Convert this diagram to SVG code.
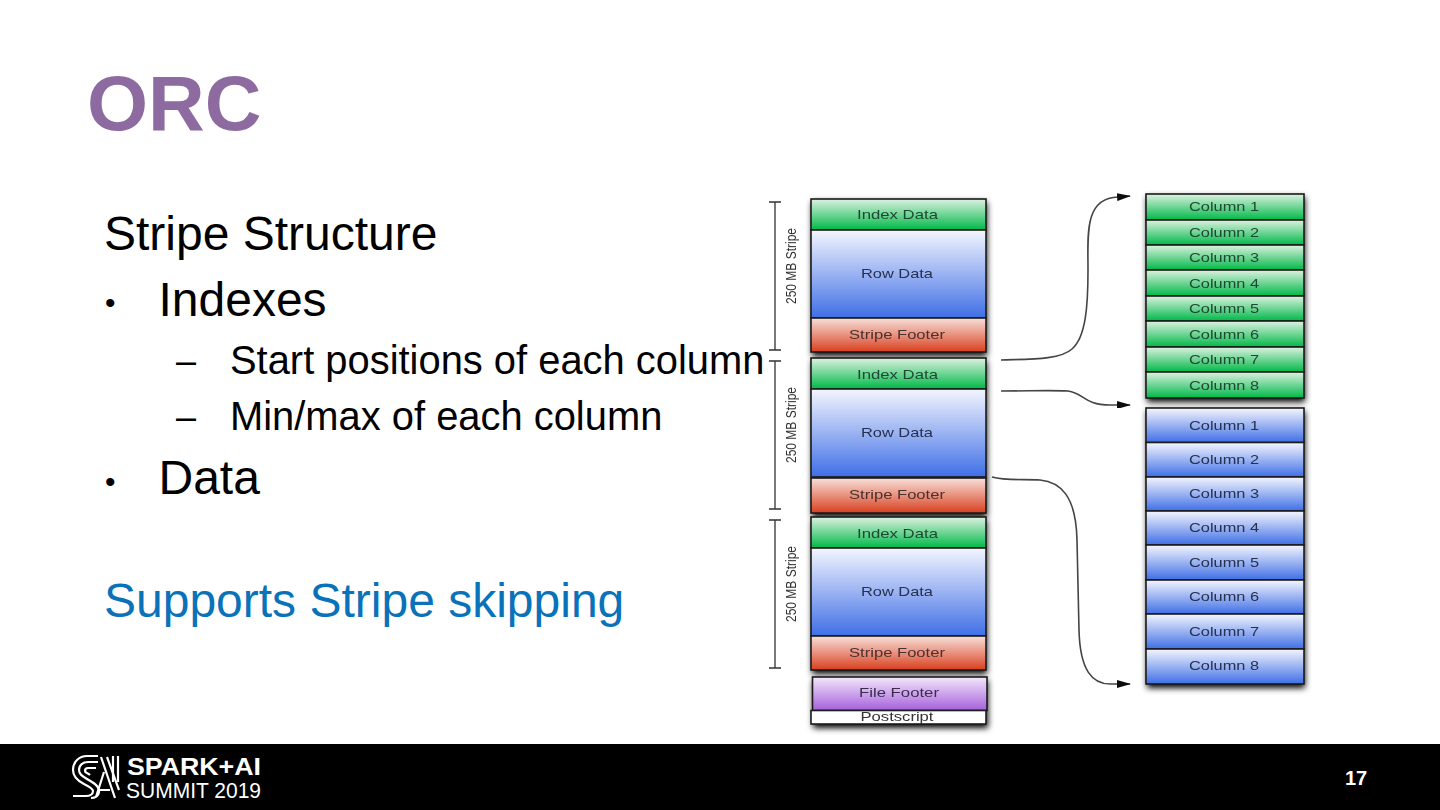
<svg xmlns="http://www.w3.org/2000/svg" width="1440" height="810" viewBox="0 0 1440 810">
<style>
text{font-family:"Liberation Sans",Arial,sans-serif}
.t{font-size:48px;fill:#000}
.s{font-size:39.900px;fill:#000}
.d{font-size:36px;fill:#000}
.b{font-size:30px;fill:#000}
.l{font-size:13.500px;text-anchor:middle}
.c{font-size:13.500px;text-anchor:middle}
.dark{fill:#26304f}
.dg{fill:#1d4a30}
.dr{fill:#4a3030}
.dp{fill:#3c2c50}
.box{stroke:#1b1b1b;stroke-width:1.6}
.stack{fill:#000;filter:url(#shadow)}
.conn{fill:none;stroke:#444;stroke-width:1.6;filter:url(#soft)}
.brace{fill:none;stroke:#333;stroke-width:1.3;filter:url(#soft)}
.side{font-size:15px;fill:#333;text-anchor:middle;filter:url(#soft)}
.blk{filter:url(#soft)}
.logo{fill:none;stroke:#fff;stroke-width:2.2}
</style>
<defs>
<filter id="soft" x="-20%" y="-20%" width="140%" height="140%"><feGaussianBlur stdDeviation="0.45"/></filter>
<filter id="shadow" x="-10%" y="-10%" width="120%" height="125%"><feGaussianBlur stdDeviation="3"/></filter>
<linearGradient id="g" x1="0" y1="0" x2="0" y2="1"><stop offset="0" stop-color="#dcf2e0"/><stop offset="1" stop-color="#00b848"/></linearGradient>
<linearGradient id="u" x1="0" y1="0" x2="0" y2="1"><stop offset="0" stop-color="#f4f6fe"/><stop offset="1" stop-color="#3f6fe6"/></linearGradient>
<linearGradient id="r" x1="0" y1="0" x2="0" y2="1"><stop offset="0" stop-color="#f8e0da"/><stop offset="1" stop-color="#d9401f"/></linearGradient>
<linearGradient id="p" x1="0" y1="0" x2="0" y2="1"><stop offset="0" stop-color="#f3e8fb"/><stop offset="1" stop-color="#a65fdc"/></linearGradient>
<marker id="arrow" markerUnits="userSpaceOnUse" markerWidth="14" markerHeight="8" refX="13" refY="4" orient="auto"><path d="M0,0L14,4L0,8z" fill="#111"/></marker>
</defs>
<rect width="1440" height="810" fill="#fff"/>
<text x="87" y="130" font-weight="700" fill="#8d6a9f" style="font-size:78.500px">ORC</text>
<g id="body">
<text class="t" x="104" y="250">Stripe Structure</text>
<text class="b" x="105" y="312.500">•</text>
<text class="t" x="158.500" y="316">Indexes</text>
<text class="d" x="176" y="373">–</text>
<text class="s" x="230" y="374">Start positions of each column</text>
<text class="d" x="176" y="429">–</text>
<text class="s" x="230" y="430">Min/max of each column</text>
<text class="b" x="105" y="491.500">•</text>
<text class="t" x="158.500" y="494">Data</text>
<text class="t" x="104" y="617" style="fill:#0a72b9">Supports Stripe skipping</text>
</g>
<g id="shadows">
<rect class="stack" x="812" y="202" width="175" height="154"/>
<rect class="stack" x="812" y="361" width="175" height="156"/>
<rect class="stack" x="812" y="520" width="175" height="154"/>
<rect class="stack" x="813" y="680" width="175" height="48"/>
<rect class="stack" x="1147" y="197" width="158" height="205"/>
<rect class="stack" x="1147" y="411" width="158" height="277"/>
</g>
<g id="connectors">
<path class="conn" marker-end="url(#arrow)" d="M1001,360C1030,359 1060,360 1072,349C1086,337 1088,305 1088,270C1088,235 1084,198 1118,197L1130,196"/>
<path class="conn" marker-end="url(#arrow)" d="M1001,391C1030,391 1050,390 1068,391C1084,393 1084,405 1110,405L1130,405"/>
<path class="conn" marker-end="url(#arrow)" d="M992,477C1005,481 1025,479 1040,480C1060,482 1076,495 1077,540L1079,630C1080,670 1092,685 1112,684L1130,684"/>
</g>
<g id="braces">
<path class="brace" d="M769,202H781M775,202V350M769,350H781"/>
<path class="brace" d="M769,361H781M775,361V509M769,509H781"/>
<path class="brace" d="M769,520H781M775,520V668M769,668H781"/>
<text class="side" transform="translate(796,266) rotate(-90) scale(.8,1)">250 MB Stripe</text>
<text class="side" transform="translate(796,425) rotate(-90) scale(.8,1)">250 MB Stripe</text>
<text class="side" transform="translate(796,584) rotate(-90) scale(.8,1)">250 MB Stripe</text>
</g>
<g id="stripe-1" class="blk">
<rect class="box" x="811" y="199" width="175" height="31" fill="url(#g)"/><text class="l dg" x="897.500" y="219" textLength="81" lengthAdjust="spacingAndGlyphs">Index Data</text>
<rect class="box" x="811" y="230" width="175" height="88" fill="url(#u)"/><text class="l dark" x="897" y="278" textLength="72" lengthAdjust="spacingAndGlyphs">Row Data</text>
<rect class="box" x="811" y="318" width="175" height="34" fill="url(#r)"/><text class="l dr" x="897" y="339" textLength="96" lengthAdjust="spacingAndGlyphs">Stripe Footer</text>
</g>
<g id="stripe-2" class="blk">
<rect class="box" x="811" y="358" width="175" height="31" fill="url(#g)"/><text class="l dg" x="897.500" y="379" textLength="81" lengthAdjust="spacingAndGlyphs">Index Data</text>
<rect class="box" x="811" y="389" width="175" height="88" fill="url(#u)"/><text class="l dark" x="897" y="437" textLength="72" lengthAdjust="spacingAndGlyphs">Row Data</text>
<rect class="box" x="811" y="478" width="175" height="35" fill="url(#r)"/><text class="l dr" x="897" y="499" textLength="96" lengthAdjust="spacingAndGlyphs">Stripe Footer</text>
</g>
<g id="stripe-3" class="blk">
<rect class="box" x="811" y="517" width="175" height="31" fill="url(#g)"/><text class="l dg" x="897.500" y="538" textLength="81" lengthAdjust="spacingAndGlyphs">Index Data</text>
<rect class="box" x="811" y="548" width="175" height="88" fill="url(#u)"/><text class="l dark" x="897" y="596" textLength="72" lengthAdjust="spacingAndGlyphs">Row Data</text>
<rect class="box" x="811" y="636" width="175" height="34" fill="url(#r)"/><text class="l dr" x="897" y="657" textLength="96" lengthAdjust="spacingAndGlyphs">Stripe Footer</text>
</g>
<g id="file-footer" class="blk"><rect class="box" x="812.500" y="677" width="174.500" height="33.500" fill="url(#p)"/><text class="l dp" x="899" y="697" textLength="80" lengthAdjust="spacingAndGlyphs">File Footer</text></g>
<g id="postscript" class="blk"><rect class="box" x="811" y="710.500" width="175" height="13.500" fill="#fff"/><text class="l" x="897" y="721" fill="#333" textLength="73" lengthAdjust="spacingAndGlyphs">Postscript</text></g>
<g id="index-columns" class="blk">
<rect class="box" x="1146" y="194" width="158" height="26" fill="url(#g)"/><text class="c dg" x="1224" y="211" textLength="70" lengthAdjust="spacingAndGlyphs">Column 1</text>
<rect class="box" x="1146" y="220" width="158" height="25" fill="url(#g)"/><text class="c dg" x="1224" y="236.500" textLength="70" lengthAdjust="spacingAndGlyphs">Column 2</text>
<rect class="box" x="1146" y="245" width="158" height="25" fill="url(#g)"/><text class="c dg" x="1224" y="262" textLength="70" lengthAdjust="spacingAndGlyphs">Column 3</text>
<rect class="box" x="1146" y="270" width="158" height="26" fill="url(#g)"/><text class="c dg" x="1224" y="288" textLength="70" lengthAdjust="spacingAndGlyphs">Column 4</text>
<rect class="box" x="1146" y="296" width="158" height="25" fill="url(#g)"/><text class="c dg" x="1224" y="313" textLength="70" lengthAdjust="spacingAndGlyphs">Column 5</text>
<rect class="box" x="1146" y="321" width="158" height="26" fill="url(#g)"/><text class="c dg" x="1224" y="339" textLength="70" lengthAdjust="spacingAndGlyphs">Column 6</text>
<rect class="box" x="1146" y="347" width="158" height="25" fill="url(#g)"/><text class="c dg" x="1224" y="364" textLength="70" lengthAdjust="spacingAndGlyphs">Column 7</text>
<rect class="box" x="1146" y="372" width="158" height="26" fill="url(#g)"/><text class="c dg" x="1224" y="390" textLength="70" lengthAdjust="spacingAndGlyphs">Column 8</text>
</g>
<g id="data-columns" class="blk">
<rect class="box" x="1146" y="408" width="158" height="34.500" fill="url(#u)"/><text class="c dark" x="1224" y="430" textLength="70" lengthAdjust="spacingAndGlyphs">Column 1</text>
<rect class="box" x="1146" y="442.500" width="158" height="34.500" fill="url(#u)"/><text class="c dark" x="1224" y="464" textLength="70" lengthAdjust="spacingAndGlyphs">Column 2</text>
<rect class="box" x="1146" y="477" width="158" height="34" fill="url(#u)"/><text class="c dark" x="1224" y="498" textLength="70" lengthAdjust="spacingAndGlyphs">Column 3</text>
<rect class="box" x="1146" y="511" width="158" height="34" fill="url(#u)"/><text class="c dark" x="1224" y="532" textLength="70" lengthAdjust="spacingAndGlyphs">Column 4</text>
<rect class="box" x="1146" y="545" width="158" height="35" fill="url(#u)"/><text class="c dark" x="1224" y="567" textLength="70" lengthAdjust="spacingAndGlyphs">Column 5</text>
<rect class="box" x="1146" y="580" width="158" height="34" fill="url(#u)"/><text class="c dark" x="1224" y="601" textLength="70" lengthAdjust="spacingAndGlyphs">Column 6</text>
<rect class="box" x="1146" y="614" width="158" height="35" fill="url(#u)"/><text class="c dark" x="1224" y="636" textLength="70" lengthAdjust="spacingAndGlyphs">Column 7</text>
<rect class="box" x="1146" y="649" width="158" height="35" fill="url(#u)"/><text class="c dark" x="1224" y="670" textLength="70" lengthAdjust="spacingAndGlyphs">Column 8</text>
</g>
<g id="footer">
<rect x="0" y="744" width="1440" height="66" fill="#000"/>
<g id="logo">
<path class="logo" d="M98,756H87C79,756 73,762 73,770C73,777 78,781 84,784C90,787 93,789 93,791C93,794 90,796 86,796H73"/>
<path class="logo" d="M98,762H88C83,762 79,765 79,770C79,774 82,776 87,779C94,783 99,786 99,791C99,796 95,798 91,798"/>
<path class="logo" d="M96,768H88C86,768 85,769 85,771C85,773 88,773 90,775"/>
<path class="logo" d="M101,757L115,798M107,757L119,790M96,797L104,772M100,790H110"/>
<path class="logo" d="M113,756V782M118,756V782"/>
<text x="127" y="775" textLength="134" lengthAdjust="spacingAndGlyphs" style="font-size:23px;font-weight:700;fill:#fff">SPARK+AI</text>
<text x="126" y="798" textLength="135" lengthAdjust="spacingAndGlyphs" style="font-size:22px;fill:#fff">SUMMIT 2019</text>
</g>
<text x="1345" y="785" style="font-size:20px;font-weight:700;fill:#fff">17</text>
</g>
</svg>
